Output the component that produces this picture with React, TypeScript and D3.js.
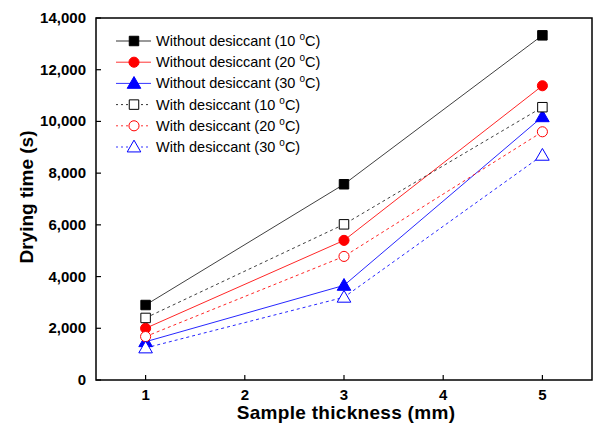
import { scaleLinear, line, format, symbol, symbolSquare, symbolCircle, symbolTriangle } from "d3";

// sample thickness (mm)
const thickness = [1, 3, 5];

// drying time (s)
const withoutDesiccant10 = [2900, 7570, 13330];
const withoutDesiccant20 = [2000, 5400, 11380];
const withoutDesiccant30 = [1480, 3660, 10180];
const withDesiccant10 = [2400, 6020, 10550];
const withDesiccant20 = [1680, 4780, 9600];
const withDesiccant30 = [1240, 3200, 8690];

const xTicks = [1, 2, 3, 4, 5];
const yTicks = [0, 2000, 4000, 6000, 8000, 10000, 12000, 14000];

const seriesList = [
  { label: "Without desiccant (10 ", values: withoutDesiccant10, color: "#000000", shape: symbolSquare, filled: true, dashed: false },
  { label: "Without desiccant (20 ", values: withoutDesiccant20, color: "#ff0000", shape: symbolCircle, filled: true, dashed: false },
  { label: "Without desiccant (30 ", values: withoutDesiccant30, color: "#0000ff", shape: symbolTriangle, filled: true, dashed: false },
  { label: "With desiccant (10 ", values: withDesiccant10, color: "#000000", shape: symbolSquare, filled: false, dashed: true },
  { label: "With desiccant (20 ", values: withDesiccant20, color: "#ff0000", shape: symbolCircle, filled: false, dashed: true },
  { label: "With desiccant (30 ", values: withDesiccant30, color: "#0000ff", shape: symbolTriangle, filled: false, dashed: true },
];

const width = 596;
const height = 429;
const margin = { top: 18, right: 4, bottom: 49, left: 96 };

export default function App() {
  const x = scaleLinear().domain([0.5, 5.5]).range([margin.left, width - margin.right]);
  const y = scaleLinear().domain([0, 14000]).range([height - margin.bottom, margin.top]);
  const fmt = format(",");

  const markerSize = (shape: any) => (shape === symbolTriangle ? 80 : shape === symbolCircle ? 80 : 90);

  return (
    <svg
      width={width}
      height={height}
      style={{ position: "absolute", left: 0, top: 0, background: "#fff" }}
      fontFamily="Arial, 'Liberation Sans', sans-serif"
    >
      {/* frame */}
      <rect
        x={margin.left}
        y={margin.top}
        width={width - margin.left - margin.right}
        height={height - margin.top - margin.bottom}
        fill="none"
        stroke="#000"
        strokeWidth={1.5}
      />

      {/* x axis */}
      <g>
        {xTicks.map((t) => (
          <g key={t}>
            <line x1={x(t)} x2={x(t)} y1={y(0)} y2={y(0) - 5} stroke="#000" strokeWidth={1.2} />
            <text x={x(t)} y={y(0) + 20} textAnchor="middle" fontSize={15} fontWeight="bold">
              {t}
            </text>
          </g>
        ))}
        <text
          x={(margin.left + width - margin.right) / 2 + 2}
          y={height - 10}
          textAnchor="middle"
          fontSize={19}
          fontWeight="bold"
          letterSpacing={0.3}
        >
          Sample thickness (mm)
        </text>
      </g>

      {/* y axis */}
      <g>
        {yTicks.map((t) => (
          <g key={t}>
            <line x1={margin.left} x2={margin.left + 5} y1={y(t)} y2={y(t)} stroke="#000" strokeWidth={1.2} />
            <text x={margin.left - 10} y={y(t) + 5} textAnchor="end" fontSize={15} fontWeight="bold">
              {fmt(t)}
            </text>
          </g>
        ))}
        <text
          transform={`translate(33,${(margin.top + height - margin.bottom) / 2 - 2}) rotate(-90)`}
          textAnchor="middle"
          fontSize={19}
          fontWeight="bold"
        >
          Drying time (s)
        </text>
      </g>

      {/* lines */}
      {seriesList.map((s, i) => {
        const path = line<number>()
          .x((_, j) => x(thickness[j]))
          .y((d) => y(d))(s.values);
        return (
          <path
            key={"l" + i}
            d={path || ""}
            fill="none"
            stroke={s.color}
            strokeOpacity={s.color === "#000000" ? 0.75 : 0.85}
            strokeWidth={1}
            strokeDasharray={s.dashed ? "3,3" : undefined}
          />
        );
      })}

      {/* markers */}
      {seriesList.map((s, i) =>
        s.values.map((v, j) => (
          <path
            key={"m" + i + "-" + j}
            d={symbol(s.shape, markerSize(s.shape))() || ""}
            transform={`translate(${x(thickness[j])},${y(v) + (s.shape === symbolTriangle ? 1 : 0)})`}
            fill={s.filled ? s.color : "#fff"}
            stroke={s.color}
            strokeWidth={1}
          />
        ))
      )}

      {/* legend */}
      <g transform="translate(116,41)">
        {seriesList.map((s, i) => (
          <g key={"g" + i} transform={`translate(0,${i * 21.2})`}>
            <line
              x1={0}
              x2={35}
              y1={0}
              y2={0}
              stroke={s.color}
              strokeOpacity={0.8}
              strokeWidth={1}
              strokeDasharray={s.dashed ? "2,3" : undefined}
            />
            <path
              d={symbol(s.shape, markerSize(s.shape))() || ""}
              transform={`translate(18,${s.shape === symbolTriangle ? 1 : 0})`}
              fill={s.filled ? s.color : "#fff"}
              stroke={s.color}
              strokeWidth={1}
            />
            <text x={40} y={5} fontSize={14.5} fill="#000">
              {s.label}
              <tspan dy={-6} fontSize={10}>o</tspan>
              <tspan dy={6}>C)</tspan>
            </text>
          </g>
        ))}
      </g>
    </svg>
  );
}
